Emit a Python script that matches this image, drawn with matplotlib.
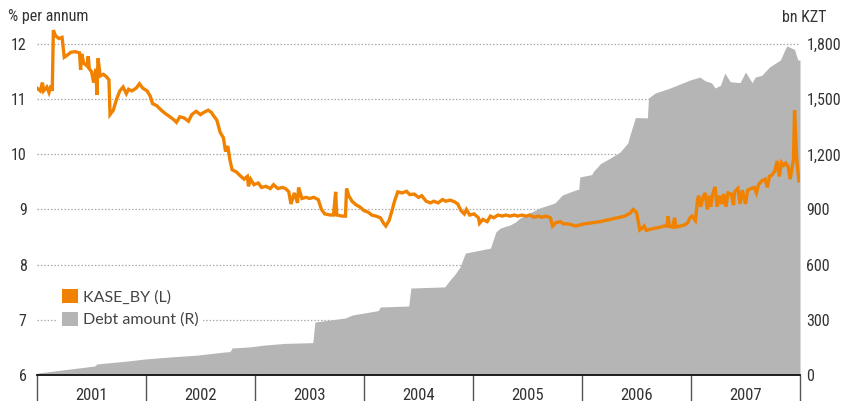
import matplotlib
matplotlib.use('Agg')
import matplotlib.pyplot as plt
from matplotlib import font_manager
from matplotlib.patches import Patch
import numpy as np

# pick a narrow font if the machine has one
available = {f.name for f in font_manager.fontManager.ttflist}
narrow = next((f for f in ['Roboto Condensed', 'Liberation Sans Narrow', 'DejaVu Sans']
               if f in available), 'DejaVu Sans')
legend_font = 'Lato' if 'Lato' in available else 'DejaVu Sans'

#KASE_BY yield, % per annum (decimal year, value)
kase_t = [2001.00, 2001.03, 2001.05, 2001.06, 2001.09, 2001.11, 2001.13, 2001.14, 2001.15, 2001.17,
          2001.20, 2001.23, 2001.25, 2001.28, 2001.31, 2001.35, 2001.39, 2001.40, 2001.41, 2001.43,
          2001.46, 2001.47, 2001.48, 2001.50, 2001.52, 2001.54, 2001.55, 2001.56, 2001.58, 2001.61,
          2001.64, 2001.66, 2001.67, 2001.70, 2001.73, 2001.76, 2001.79, 2001.82, 2001.84, 2001.87,
          2001.91, 2001.94, 2001.97, 2002.01, 2002.04, 2002.06, 2002.10, 2002.14, 2002.17, 2002.22,
          2002.26, 2002.28, 2002.31, 2002.35, 2002.39, 2002.42, 2002.46, 2002.50, 2002.53, 2002.57,
          2002.60, 2002.62, 2002.65, 2002.68, 2002.71, 2002.73, 2002.75, 2002.77, 2002.79, 2002.83,
          2002.86, 2002.90, 2002.93, 2002.94, 2002.96, 2002.99, 2003.03, 2003.06, 2003.10, 2003.14,
          2003.17, 2003.21, 2003.25, 2003.28, 2003.31, 2003.33, 2003.36, 2003.39, 2003.40, 2003.43,
          2003.47, 2003.50, 2003.54, 2003.58, 2003.61, 2003.64, 2003.69, 2003.72, 2003.74, 2003.75,
          2003.80, 2003.83, 2003.84, 2003.86, 2003.89, 2003.93, 2003.96, 2004.00, 2004.04, 2004.07,
          2004.11, 2004.15, 2004.18, 2004.20, 2004.23, 2004.26, 2004.28, 2004.31, 2004.35, 2004.39,
          2004.42, 2004.46, 2004.50, 2004.53, 2004.57, 2004.61, 2004.64, 2004.68, 2004.72, 2004.75,
          2004.79, 2004.83, 2004.86, 2004.89, 2004.92, 2004.94, 2004.97, 2005.01, 2005.05, 2005.06,
          2005.09, 2005.13, 2005.16, 2005.19, 2005.23, 2005.27, 2005.30, 2005.34, 2005.38, 2005.41,
          2005.45, 2005.49, 2005.52, 2005.56, 2005.60, 2005.63, 2005.67, 2005.71, 2005.73, 2005.76,
          2005.80, 2005.83, 2005.87, 2005.91, 2005.94, 2005.98, 2006.02, 2006.06, 2006.09, 2006.13,
          2006.17, 2006.21, 2006.26, 2006.30, 2006.35, 2006.39, 2006.44, 2006.47, 2006.50, 2006.51,
          2006.53, 2006.55, 2006.57, 2006.59, 2006.62, 2006.67, 2006.72, 2006.75, 2006.78, 2006.79,
          2006.80, 2006.83, 2006.85, 2006.86, 2006.90, 2006.94, 2006.97, 2006.99, 2007.01, 2007.04,
          2007.06, 2007.07, 2007.09, 2007.11, 2007.13, 2007.15, 2007.17, 2007.18, 2007.20, 2007.22,
          2007.24, 2007.26, 2007.28, 2007.30, 2007.32, 2007.34, 2007.37, 2007.39, 2007.40, 2007.43,
          2007.45, 2007.47, 2007.50, 2007.52, 2007.55, 2007.58, 2007.60, 2007.62, 2007.65, 2007.68,
          2007.70, 2007.72, 2007.74, 2007.77, 2007.79, 2007.81, 2007.83, 2007.85, 2007.87, 2007.89,
          2007.91, 2007.93, 2007.94, 2007.95, 2007.97, 2007.99]
kase_v = [11.20, 11.15, 11.30, 11.15, 11.22, 11.12, 11.25, 11.15, 12.25, 12.15,
          12.10, 12.12, 11.76, 11.80, 11.85, 11.86, 11.84, 11.53, 11.82, 11.65,
          11.60, 11.78, 11.55, 11.50, 11.30, 11.55, 11.08, 11.74, 11.42, 11.45,
          11.40, 11.35, 10.72, 10.80, 11.00, 11.15, 11.22, 11.10, 11.18, 11.15,
          11.20, 11.28, 11.20, 11.15, 11.05, 10.92, 10.88, 10.80, 10.75, 10.68,
          10.62, 10.58, 10.68, 10.66, 10.60, 10.72, 10.78, 10.72, 10.76, 10.80,
          10.76, 10.70, 10.62, 10.40, 10.30, 10.05, 10.15, 9.90, 9.72, 9.68,
          9.62, 9.55, 9.60, 9.42, 9.55, 9.45, 9.48, 9.40, 9.42, 9.38,
          9.45, 9.38, 9.40, 9.38, 9.32, 9.10, 9.30, 9.12, 9.40, 9.20,
          9.22, 9.20, 9.22, 9.18, 9.00, 8.92, 8.90, 8.90, 9.32, 8.90,
          8.88, 8.88, 9.38, 9.25, 9.15, 9.08, 9.05, 8.98, 8.95, 8.90,
          8.88, 8.85, 8.75, 8.70, 8.80, 9.00, 9.15, 9.32, 9.30, 9.33,
          9.27, 9.28, 9.22, 9.25, 9.15, 9.12, 9.15, 9.12, 9.18, 9.15,
          9.17, 9.14, 9.10, 8.98, 8.92, 9.00, 8.90, 8.92, 8.85, 8.75,
          8.82, 8.78, 8.88, 8.85, 8.90, 8.88, 8.90, 8.88, 8.90, 8.88,
          8.90, 8.88, 8.90, 8.86, 8.88, 8.86, 8.88, 8.85, 8.70, 8.76,
          8.78, 8.74, 8.74, 8.72, 8.70, 8.72, 8.74, 8.75, 8.76, 8.77,
          8.78, 8.80, 8.82, 8.84, 8.86, 8.88, 8.93, 9.00, 8.95, 8.85,
          8.63, 8.66, 8.70, 8.62, 8.64, 8.66, 8.68, 8.70, 8.70, 8.88,
          8.70, 8.68, 8.85, 8.68, 8.70, 8.72, 8.76, 8.85, 8.88, 8.80,
          9.17, 9.25, 9.05, 9.22, 9.30, 9.00, 9.25, 9.05, 9.28, 9.41,
          9.05, 9.25, 9.10, 9.28, 9.05, 9.30, 9.28, 9.08, 9.32, 9.38,
          9.10, 9.35, 9.10, 9.35, 9.38, 9.40, 9.30, 9.45, 9.52, 9.55,
          9.40, 9.60, 9.62, 9.70, 9.88, 9.60, 9.85, 9.80, 9.84, 9.78,
          9.55, 9.80, 9.90, 10.80, 9.90, 9.52]

#Debt amount, bn KZT (pairs of points at the same spot give the jumps)
debt_t = [2001.00, 2001.53, 2001.55, 2001.83, 2001.99, 2002.22, 2002.47, 2002.72, 2002.77, 2002.79,
          2002.94, 2003.09, 2003.28, 2003.53, 2003.55, 2003.83, 2003.89, 2004.06, 2004.13, 2004.15,
          2004.41, 2004.43, 2004.74, 2004.79, 2004.83, 2004.88, 2004.93, 2005.16, 2005.21, 2005.25,
          2005.34, 2005.39, 2005.43, 2005.52, 2005.61, 2005.75, 2005.82, 2005.94, 2005.97, 2005.98,
          2006.09, 2006.10, 2006.17, 2006.26, 2006.35, 2006.42, 2006.44, 2006.49, 2006.60, 2006.61,
          2006.67, 2006.81, 2006.99, 2007.08, 2007.13, 2007.19, 2007.22, 2007.27, 2007.31, 2007.36,
          2007.45, 2007.50, 2007.56, 2007.59, 2007.65, 2007.72, 2007.82, 2007.86, 2007.88, 2007.95,
          2007.98, 2008.00]
debt_v = [10, 49, 60, 76, 87, 98, 108, 125, 127, 147,
          152, 163, 172, 176, 288, 310, 326, 343, 350, 370,
          375, 473, 479, 517, 544, 587, 663, 690, 778, 799,
          816, 832, 853, 881, 908, 935, 979, 1006, 1010, 1077,
          1090, 1104, 1150, 1180, 1213, 1262, 1305, 1400, 1398, 1506,
          1533, 1561, 1604, 1620, 1600, 1588, 1561, 1575, 1642, 1595,
          1590, 1648, 1590, 1620, 1630, 1675, 1713, 1767, 1790, 1770,
          1713, 1713]

years = ['2001', '2002', '2003', '2004', '2005', '2006', '2007']
left_ticks = [6, 7, 8, 9, 10, 11, 12]
right_ticks = [0, 300, 600, 900, 1200, 1500, 1800]

orange = '#F08200'
grey = '#B4B5B4'
text_col = '#333333'

fig = plt.figure(figsize=(8.45, 4.01), dpi=100)
W, H = 845, 401
ax = fig.add_axes([37 / W, 26 / H, (800 - 37) / W, (381 - 26) / H])
ax2 = ax.twinx()

top = 12 + 24 / 55.17
ax.set_ylim(6, top)
ax2.set_ylim(0, 1800 * (top - 6) / 6)
ax.set_xlim(2001, 2008)

# area on the right axis goes behind, the line sits on top
ax2.set_zorder(1)
ax.set_zorder(2)
ax.patch.set_visible(False)

for v in left_ticks[1:]:
    ax2.axhline(1800 * (v - 6) / 6, color='#AAAAAA', lw=0.9, ls=(0, (1.2, 1.5)), zorder=0)
ax2.fill_between(debt_t, debt_v, color=grey, lw=0, zorder=1)
ax.plot(kase_t, kase_v, color=orange, lw=2.4, solid_joinstyle='miter', zorder=3)

for a in (ax, ax2):
    for s in ['top', 'left', 'right']:
        a.spines[s].set_visible(False)
ax.spines['bottom'].set_color('#111111')
ax.spines['bottom'].set_linewidth(1.3)
ax2.spines['bottom'].set_visible(False)

ax.set_yticks(left_ticks)
ax.set_yticklabels([str(v) for v in left_ticks], fontsize=11.5, color=text_col, family=narrow)
ax.tick_params(axis='y', length=0, pad=7.5)
ax2.set_yticks(right_ticks)
ax2.set_yticklabels(['{:,}'.format(v) for v in right_ticks], fontsize=11.5, color=text_col, family=narrow)
ax2.tick_params(axis='y', length=0, pad=4.5)

ax.set_xticks(np.arange(2001, 2009))
ax.set_xticklabels([])
ax.set_xticks(np.arange(2001.5, 2008), minor=True)
ax.set_xticklabels(years, minor=True, fontsize=12, color=text_col, family=narrow)
ax.tick_params(axis='x', which='major', length=30, width=1.0, color='#555555', direction='out')
ax.tick_params(axis='x', which='minor', length=0, pad=9)

fig.text(8 / W, 1 - 16 / H, '% per annum', fontsize=11.5, color=text_col, family=narrow, va='center', ha='left')
fig.text(827 / W, 1 - 17 / H, 'bn KZT', fontsize=11.5, color=text_col, family=narrow, va='center', ha='right')

handles = [Patch(facecolor=orange, edgecolor='none'), Patch(facecolor=grey, edgecolor='none')]
leg = ax.legend(handles, ['KASE_BY (L)', 'Debt amount (R)'], loc='upper left',
                bbox_to_anchor=(57 / W, 1 - 284 / H), bbox_transform=fig.transFigure,
                frameon=True, facecolor='white', edgecolor='none', framealpha=1, fancybox=False,
                handlelength=1.0, handleheight=1.0, handletextpad=0.3, labelspacing=0.45,
                borderpad=0.3, borderaxespad=0,
                prop={'family': legend_font, 'size': 11.5})
for t in leg.get_texts():
    t.set_color('#444444')

fig.savefig('out.png', dpi=100)
